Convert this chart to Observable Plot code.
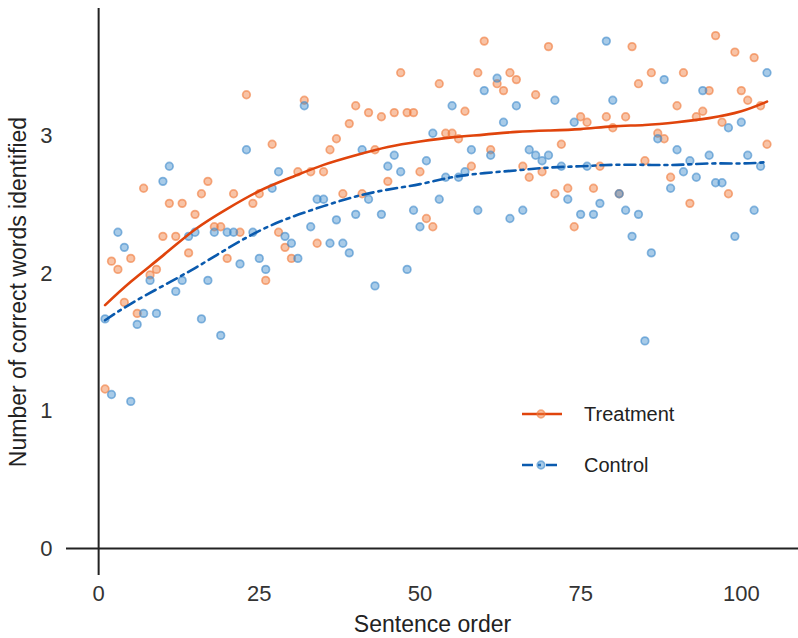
<!DOCTYPE html>
<html>
<head>
<meta charset="utf-8">
<script src="https://cdn.jsdelivr.net/npm/d3@7"></script>
<script src="https://cdn.jsdelivr.net/npm/@observablehq/plot@0.6"></script>
<style>
html, body { margin: 0; padding: 0; background: #fff; }
#wrap { position: relative; width: 798px; height: 638px; font-family: "Liberation Sans", Arial, sans-serif; }
#legend { position: absolute; left: 510px; top: 390px; }
</style>
</head>
<body>
<div id="wrap"></div>
<script>
// ---- data ----
const sentence = [1,2,3,4,5,6,7,8,9,10,11,12,13,14,15,16,17,18,19,20,21,22,23,24,25,26,27,28,29,30,
  31,32,33,34,35,36,37,38,39,40,41,42,43,44,45,46,47,48,49,50,51,52,53,54,55,56,57,58,59,60,
  61,62,63,64,65,66,67,68,69,70,71,72,73,74,75,76,77,78,79,80,81,82,83,84,85,86,87,88,89,90,
  91,92,93,94,95,96,97,98,99,100,101,102,103,104];
const treatment = [1.16,2.09,2.03,1.79,2.11,1.71,2.62,1.99,2.03,2.27,
  2.51,2.27,2.51,2.15,2.43,2.58,2.67,2.34,2.34,2.11,
  2.58,2.30,3.30,2.51,2.58,1.95,2.94,2.30,2.19,2.11,
  2.74,3.26,2.74,2.22,2.74,2.90,2.98,2.58,3.09,3.22,
  2.58,3.17,2.90,3.14,2.67,3.17,3.46,3.17,3.17,2.74,
  2.40,2.34,3.38,3.02,3.02,2.98,3.18,2.78,3.46,3.69,
  2.90,3.38,3.33,3.46,3.41,2.78,2.70,3.30,2.74,3.65,
  2.58,2.94,2.62,2.34,3.14,3.10,2.62,2.78,3.14,3.06,
  2.58,3.14,3.65,3.38,2.82,3.46,3.02,2.98,2.70,3.22,
  3.46,2.51,3.14,3.18,3.33,3.73,3.10,2.58,3.61,3.33,
  3.26,3.57,3.22,2.94];
const control = [1.67,1.12,2.30,2.19,1.07,1.63,1.71,1.95,1.71,2.67,
  2.78,1.87,1.95,2.27,2.30,1.67,1.95,2.30,1.55,2.30,
  2.30,2.07,2.90,2.30,2.11,2.03,2.62,2.74,2.27,2.22,
  2.11,3.22,2.34,2.54,2.54,2.22,2.39,2.22,2.15,2.43,
  2.90,2.54,1.91,2.43,2.78,2.86,2.74,2.03,2.46,2.34,
  2.82,3.02,2.54,2.70,3.22,2.70,2.74,2.90,2.46,3.33,
  2.86,3.42,3.10,2.40,3.22,2.46,2.90,2.86,2.82,2.86,
  3.26,2.78,2.54,3.10,2.43,2.78,2.43,2.51,3.69,3.26,
  2.58,2.46,2.27,2.43,1.51,2.15,2.98,3.41,2.62,2.90,
  2.74,2.82,2.70,3.33,2.86,2.66,2.66,3.06,2.27,3.10,
  2.86,2.46,2.78,3.46];
// smoothed trend lines
const fitX = [1,5,10,15,20,25,30,35,40,45,50,55,60,65,70,75,80,85,90,95,100,104];
const treatmentFit = [1.77,1.94,2.13,2.32,2.47,2.60,2.70,2.79,2.86,2.92,2.96,2.99,3.01,3.03,3.04,3.05,3.07,3.08,3.10,3.13,3.18,3.25];
const controlFit = [1.66,1.78,1.91,2.04,2.18,2.31,2.41,2.49,2.56,2.61,2.65,2.70,2.73,2.75,2.77,2.78,2.79,2.79,2.79,2.80,2.80,2.81];
const xTicks = [0,25,50,75,100];
const yTicks = [0,1,2,3];
const seriesNames = ["Treatment","Control"];
const pointColors = ["#f07a3a","#3f8bcc"];
const lineColors = ["#e0440c","#0a5aae"];
const xLabel = "Sentence order";
const yLabel = "Number of correct words identified";

// ---- tables ----
const tRows = sentence.map((s,i)=>({s, v: treatment[i]}));
const cRows = sentence.map((s,i)=>({s, v: control[i]}));
const tFit = fitX.map((s,i)=>({s, v: treatmentFit[i]}));
const cFit = fitX.map((s,i)=>({s, v: controlFit[i]}));

const dotStyle = (c) => ({x:"s", y:"v", r:3.8, fill:c, fillOpacity:0.45, stroke:c, strokeOpacity:0.6, strokeWidth:1.7});

const chart = Plot.plot({
  width: 798, height: 638,
  marginLeft: 66, marginRight: 0, marginTop: 8, marginBottom: 63,
  style: {fontFamily: "'Liberation Sans', Arial, sans-serif", fontSize: "22px", color: "#333", background: "white", overflow: "visible"},
  x: {domain: [-5, 108.9], ticks: xTicks, tickSize: 0, tickPadding: 10, tickFormat: d => String(d), label: null},
  y: {domain: [-0.196, 3.927], ticks: yTicks, tickSize: 0, tickPadding: 14, tickFormat: d => String(d), label: null},
  marks: [
    Plot.ruleX([0], {stroke: "#222", strokeWidth: 2}),
    Plot.ruleY([0], {stroke: "#222", strokeWidth: 2}),
    Plot.dot(tRows, dotStyle(pointColors[0])),
    Plot.dot(cRows, dotStyle(pointColors[1])),
    Plot.line(tFit, {x:"s", y:"v", curve:"natural", stroke: lineColors[0], strokeWidth: 2.6}),
    Plot.line(cFit, {x:"s", y:"v", curve:"natural", stroke: lineColors[1], strokeWidth: 2.6, strokeDasharray: "11,5,3,5"}),
    Plot.text([xLabel], {frameAnchor: "bottom", dy: 56, fontSize: 23, fill: "#222", textAnchor: "middle"}),
    Plot.text([yLabel], {frameAnchor: "left", rotate: -90, dx: -48, fontSize: 23, fill: "#222", textAnchor: "middle"})
  ]
});
document.getElementById("wrap").appendChild(chart);

// ---- legend (inside the plot area) ----
const leg = d3.select("#wrap").append("svg")
  .attr("id","legend").attr("width", 200).attr("height", 100);
seriesNames.forEach((name, i) => {
  const g = leg.append("g").attr("transform", `translate(0,${24 + i*51})`);
  g.append("line").attr("x1", 12).attr("x2", 52).attr("y1", 0).attr("y2", 0)
    .attr("stroke", lineColors[i]).attr("stroke-width", 2.6)
    .attr("stroke-dasharray", i === 0 ? null : "11,5,3,5");
  g.append("circle").attr("cx", 31).attr("cy", 0).attr("r", 3.8)
    .attr("fill", pointColors[i]).attr("fill-opacity", 0.45)
    .attr("stroke", pointColors[i]).attr("stroke-opacity", 0.6).attr("stroke-width", 1.7);
  g.append("text").attr("x", 74).attr("y", 0).attr("dy", "0.35em")
    .attr("font-size", 20).attr("fill", "#222")
    .attr("font-family", "'Liberation Sans', Arial, sans-serif")
    .text(name);
});
</script>
</body>
</html>
